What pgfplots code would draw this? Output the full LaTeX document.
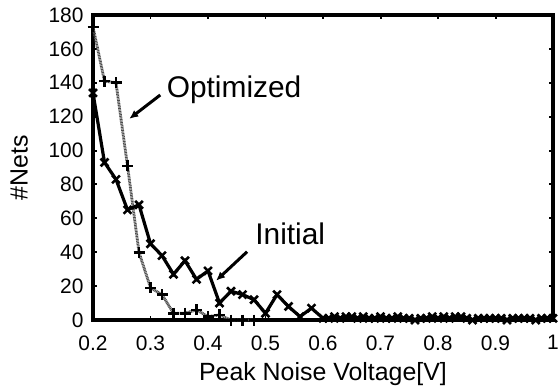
\documentclass[border=0pt]{standalone}
\usepackage{pgfplots}
\pgfplotsset{compat=1.18}
\usetikzlibrary{arrows.meta}
\usepackage{fontspec}
\setmainfont{Liberation Sans}
\begin{document}
\begin{tikzpicture}
\begin{axis}[
  name=ax,
  scale only axis,
  width=460bp, height=305bp,
  xmin=0.2, xmax=1.0, ymin=0, ymax=180,
  xtick={0.2,0.3,0.4,0.5,0.6,0.7,0.8,0.9,1},
  xticklabels={0.2,0.3,0.4,0.5,0.6,0.7,0.8,0.9,1},
  ytick={0,20,40,60,80,100,120,140,160,180},
  tick align=inside,
  major tick length=4bp,
  tick style={black, line width=2pt},
  axis line style={line width=3.2bp},
  /pgf/number format/assume math mode=true,
  tick label style={font=\fontsize{21}{23}\selectfont},
  xticklabel style={yshift=-12bp},
  yticklabel style={xshift=-6bp},
  xlabel={Peak Noise Voltage[V]},
  ylabel={\#Nets},
  xlabel style={font=\fontsize{25}{27}\selectfont, at={(axis description cs:0.5,-0.197)}, anchor=base},
  ylabel style={font=\fontsize{25}{27}\selectfont, at={(axis description cs:-0.142,0.5)}, anchor=base},
  clip=false,
]
\addplot[black!70, dash pattern=on 1pt off 0.6pt, line width=2.8bp, mark=+, mark size=5.5bp, mark options={black, solid, line width=2.6bp}] coordinates {
(0.20,173)(0.22,141)(0.24,140)(0.26,91)(0.28,40)(0.30,19)(0.32,15)(0.34,4)(0.36,4)(0.38,6)(0.40,2)(0.42,3)(0.44,0)(0.46,0)(0.48,0)
};
\addplot[black, line width=3.2bp, mark=x, mark size=5.5bp, mark options={line width=2.6bp}] coordinates {
(0.20,134)(0.22,93)(0.24,83)(0.26,65)(0.28,68)(0.30,45)(0.32,38)(0.34,27)(0.36,35)(0.38,24)(0.40,29)(0.42,10)(0.44,17)(0.46,15)(0.48,12)(0.50,4)(0.52,15)(0.54,8)(0.56,2)(0.58,7)(0.60,1)
(0.61,1)(0.62,2)(0.63,1)(0.64,2)(0.65,2)(0.66,1)(0.67,2)(0.68,1)(0.69,1)(0.70,2)
(0.71,1)(0.72,1)(0.73,2)(0.74,1)(0.75,1)(0.76,0)(0.77,1)(0.78,1)(0.79,2)(0.80,1)
(0.81,2)(0.82,1)(0.83,2)(0.84,2)(0.85,1)(0.86,0)(0.87,1)(0.88,1)(0.89,1)(0.90,1)
(0.91,1)(0.92,0)(0.93,1)(0.94,1)(0.95,1)(0.96,1)(0.97,0)(0.98,1)(0.99,1)(1.00,1)
};
\node[font=\fontsize{30}{32}\selectfont, anchor=base west, inner sep=0pt] at (axis cs:0.328,131.6) {Optimized};
\node[font=\fontsize{30}{32}\selectfont, anchor=base west, inner sep=0pt] at (axis cs:0.482,44.3) {Initial};
\draw[-{Latex[length=9bp,width=8bp]}, line width=3bp] (axis cs:0.317,132.8) -- (axis cs:0.263,118.7);
\draw[-{Latex[length=9bp,width=8bp]}, line width=3bp] (axis cs:0.468,40.3) -- (axis cs:0.414,23.2);
\end{axis}
\pgfresetboundingbox
\path (ax.south west) ++(-93bp,-66bp) rectangle ([shift={(6bp,15bp)}]ax.north east);
\end{tikzpicture}
\end{document}
